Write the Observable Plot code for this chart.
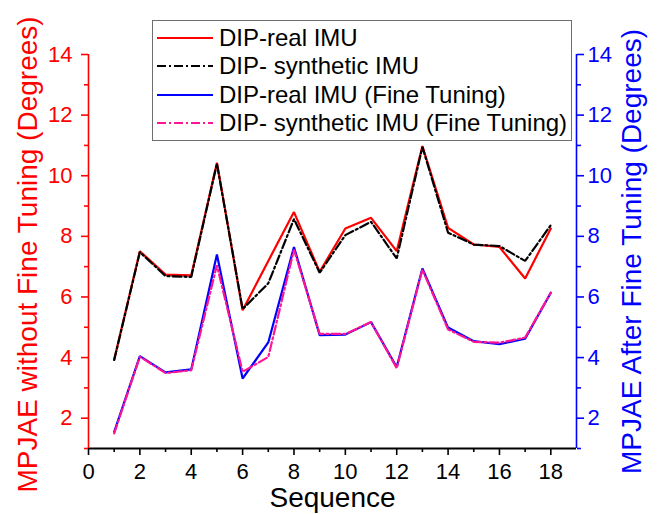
<!DOCTYPE html>
<html>
<head>
<meta charset="utf-8">
<script src="https://cdn.jsdelivr.net/npm/d3@7"></script>
<script src="https://cdn.jsdelivr.net/npm/@observablehq/plot@0.6"></script>
<style>
  html, body { margin: 0; padding: 0; background: #fff; }
  #chart { position: relative; width: 665px; height: 514px; font-family: "Liberation Sans", Arial, sans-serif; }
  #legend {
    position: absolute; left: 152px; top: 20px; width: 420px; height: 121px;
    border: 1px solid #6e6e6e; background: #fff; box-sizing: border-box;
    padding-top: 3px;
  }
  .row { display: flex; align-items: center; height: 28.3px; font-size: 24px; color: #000; white-space: nowrap; }
  .row svg { margin-left: 4px; margin-right: 6px; flex: none; }
</style>
</head>
<body>
<div id="chart"></div>
<script>
// Sequence index on the x axis
const sequence = [1, 2, 3, 4, 5, 6, 7, 8, 9, 10, 11, 12, 13, 14, 15, 16, 17, 18];

// MPJAE (degrees) without fine tuning
const dipReal      = [3.94, 7.51, 6.74, 6.71, 10.43, 5.56, 7.19, 8.80, 6.83, 8.26, 8.61, 7.51, 10.98, 8.28, 7.73, 7.65, 6.61, 8.26];
const dipSynthetic = [3.92, 7.48, 6.69, 6.66, 10.40, 5.60, 6.45, 8.57, 6.80, 8.04, 8.48, 7.27, 10.95, 8.12, 7.73, 7.68, 7.19, 8.37];

// MPJAE (degrees) after fine tuning
const dipRealFT      = [1.55, 4.05, 3.51, 3.61, 7.40, 3.31, 4.50, 7.65, 4.74, 4.76, 5.17, 3.69, 6.94, 4.99, 4.54, 4.44, 4.62, 6.14];
const dipSyntheticFT = [1.50, 4.03, 3.49, 3.58, 7.05, 3.53, 4.02, 7.56, 4.78, 4.78, 5.17, 3.65, 6.90, 4.93, 4.52, 4.49, 4.66, 6.14];

// Axis tick values
const xMajor = [0, 2, 4, 6, 8, 10, 12, 14, 16, 18];
const xMinor = [1, 3, 5, 7, 9, 11, 13, 15, 17];
const yMajor = [2, 4, 6, 8, 10, 12, 14];
const yMinor = [1, 3, 5, 7, 9, 11, 13];

const RED = "#ff0000", BLUE = "#0000ff", BLACK = "#000000", PINK = "#ff1493";
const DASHDOT = "9,3,2,3";

const series = [
  {name: "DIP-real IMU", values: dipReal, stroke: RED, dash: null},
  {name: "DIP- synthetic IMU", values: dipSynthetic, stroke: BLACK, dash: DASHDOT},
  {name: "DIP-real IMU (Fine Tuning)", values: dipRealFT, stroke: BLUE, dash: null},
  {name: "DIP- synthetic IMU (Fine Tuning)", values: dipSyntheticFT, stroke: PINK, dash: DASHDOT}
];

const rows = series.map(s => sequence.map((x, i) => ({x, y: s.values[i]})));

const font = "Liberation Sans, Arial, sans-serif";

const chart = Plot.plot({
  width: 665,
  height: 514,
  marginLeft: 88,
  marginRight: 89,
  marginTop: 54,
  marginBottom: 66,
  style: {fontFamily: font, fontSize: "22px", background: "#fff", overflow: "visible"},
  x: {domain: [0, 19]},
  y: {domain: [1, 14]},
  marks: [
    // data lines
    ...series.map((s, k) => Plot.line(rows[k], {
      x: "x", y: "y", stroke: s.stroke, strokeWidth: 2.2,
      strokeDasharray: s.dash ?? undefined, strokeLinejoin: "miter"
    })),
    // bottom axis
    Plot.ruleY([1], {stroke: BLACK, strokeWidth: 2}),
    Plot.axisX({ticks: xMajor, tickSize: 7, tickPadding: 8, color: BLACK, strokeWidth: 1.6, fontSize: 22, label: null}),
    Plot.axisX({ticks: xMinor, tickSize: 4, tickFormat: () => "", color: BLACK, strokeWidth: 1.6, label: null}),
    // left axis (without fine tuning)
    Plot.ruleX([0], {stroke: RED, strokeWidth: 1.6}),
    Plot.axisY({anchor: "left", ticks: yMajor, tickSize: 7, tickPadding: 9, color: RED, strokeWidth: 1.6, fontSize: 22, label: null}),
    Plot.axisY({anchor: "left", ticks: yMinor, tickSize: 4, tickFormat: () => "", color: RED, strokeWidth: 1.6, label: null}),
    // right axis (after fine tuning)
    Plot.ruleX([19], {stroke: BLUE, strokeWidth: 1.6}),
    Plot.axisY({anchor: "right", ticks: yMajor, tickSize: 7, tickPadding: 4, color: BLUE, strokeWidth: 1.6, fontSize: 22, label: null}),
    Plot.axisY({anchor: "right", ticks: yMinor, tickSize: 4, tickFormat: () => "", color: BLUE, strokeWidth: 1.6, label: null}),
    // axis titles
    Plot.text(["MPJAE without Fine Tuning (Degrees)"], {
      text: d => d, frameAnchor: "left", textAnchor: "middle", rotate: -90, dx: -60, dy: 3,
      fill: RED, fontSize: 28, lineAnchor: "middle"
    }),
    Plot.text(["MPJAE After Fine Tuning (Degrees)"], {
      text: d => d, frameAnchor: "right", textAnchor: "middle", rotate: -90, dx: 56, dy: 0,
      fill: BLUE, fontSize: 28, lineAnchor: "middle"
    }),
    Plot.text(["Sequence"], {
      text: d => d, frameAnchor: "bottom", dy: 50,
      fill: BLACK, fontSize: 28, lineAnchor: "middle"
    })
  ]
});

const container = document.getElementById("chart");
container.appendChild(chart);

// legend box drawn over the plot area
const legend = document.createElement("div");
legend.id = "legend";
for (const s of series) {
  const row = document.createElement("div");
  row.className = "row";
  const ns = "http://www.w3.org/2000/svg";
  const sw = document.createElementNS(ns, "svg");
  sw.setAttribute("width", 56);
  sw.setAttribute("height", 10);
  const ln = document.createElementNS(ns, "line");
  ln.setAttribute("x1", 0); ln.setAttribute("x2", 56);
  ln.setAttribute("y1", 5); ln.setAttribute("y2", 5);
  ln.setAttribute("stroke", s.stroke);
  ln.setAttribute("stroke-width", 2);
  if (s.dash) ln.setAttribute("stroke-dasharray", s.dash);
  sw.appendChild(ln);
  const label = document.createElement("span");
  label.textContent = s.name;
  row.appendChild(sw);
  row.appendChild(label);
  legend.appendChild(row);
}
container.appendChild(legend);
</script>
</body>
</html>
